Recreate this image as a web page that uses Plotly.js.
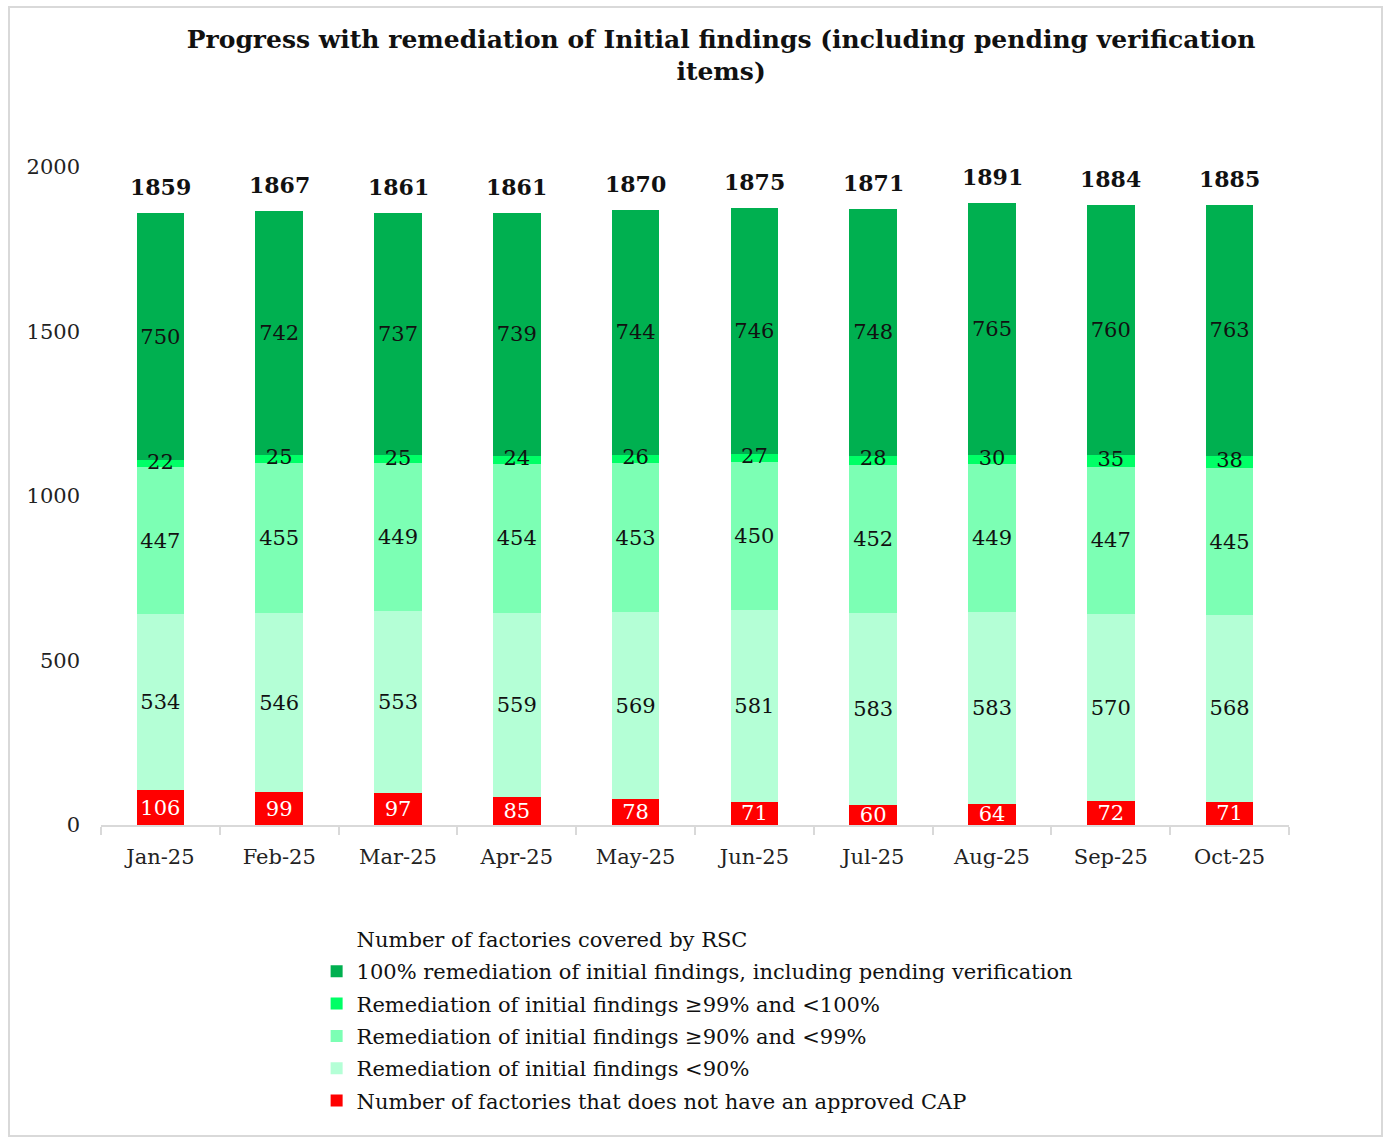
<!DOCTYPE html>
<html>
<head>
<meta charset="utf-8">
<script src="https://cdn.plot.ly/plotly-3.0.1.min.js"></script>
<style>
  html, body { margin: 0; padding: 0; background: #ffffff; }
  #wrap { position: relative; width: 1388px; height: 1139px; }
  #chart { width: 1388px; height: 1139px; }
  #frame { position: absolute; left: 8px; top: 6px; width: 1375px; height: 1131px;
           border: 2px solid #d9d9d9; box-sizing: border-box; pointer-events: none; }
</style>
</head>
<body>
<div id="wrap">
  <div id="chart"></div>
  <div id="frame"></div>
</div>
<script>
// ---- data ----
const months = ["Jan-25","Feb-25","Mar-25","Apr-25","May-25","Jun-25","Jul-25","Aug-25","Sep-25","Oct-25"];
const noCap = [106, 99, 97, 85, 78, 71, 60, 64, 72, 71];
const below90 = [534, 546, 553, 559, 569, 581, 583, 583, 570, 568];
const r90to99 = [447, 455, 449, 454, 453, 450, 452, 449, 447, 445];
const r99to100 = [22, 25, 25, 24, 26, 27, 28, 30, 35, 38];
const full100 = [750, 742, 737, 739, 744, 746, 748, 765, 760, 763];
const totals = [1859, 1867, 1861, 1861, 1870, 1875, 1871, 1891, 1884, 1885];

const seriesNames = [
  "Number of factories that does not have an approved CAP",
  "Remediation of initial findings <90%",
  "Remediation of initial findings \u226590% and <99%",
  "Remediation of initial findings \u226599% and <100%",
  "100% remediation of initial findings, including pending verification",
  "Number of factories covered by RSC"
];
const yTicks = [0, 500, 1000, 1500, 2000];

// ---- styling ----
const FONT = "DejaVu Serif, Liberation Serif, serif";
const colors = ["#FF0000", "#B4FFD6", "#7CFFB4", "#00FF66", "#00B050"];
const series = [noCap, below90, r90to99, r99to100, full100];

const traces = [];
series.forEach((vals, i) => {
  traces.push({
    type: "bar",
    x: months,
    y: vals,
    name: seriesNames[i],
    marker: { color: colors[i], line: { width: 0 } },
    text: i === 3 ? vals.map(() => "") : vals.map(String),
    textposition: "inside",
    insidetextanchor: "middle",
    constraintext: "none",
    textangle: 0,
    textfont: { family: FONT, size: 21, color: i === 0 ? "#ffffff" : "#111111" },
    hoverinfo: "skip",
    legendgroup: "g" + i,
    legendrank: 6 - i
  });
});

// labels for the thin >=99% segment drawn above all bars
const midThin = months.map((m, k) => noCap[k] + below90[k] + r90to99[k] + r99to100[k] / 2);
traces.push({
  type: "scatter",
  mode: "text",
  x: months,
  y: midThin,
  text: r99to100.map(String),
  textposition: "middle center",
  textfont: { family: FONT, size: 21, color: "#111111" },
  showlegend: false,
  hoverinfo: "skip"
});

// legend entry for the totals series (labels drawn as annotations)
traces.push({
  type: "scatter",
  mode: "lines",
  x: months,
  y: totals,
  name: seriesNames[5],
  line: { color: "rgba(0,0,0,0)", width: 0 },
  hoverinfo: "skip",
  legendgroup: "g5",
  legendrank: 1
});

const annotations = months.map((m, k) => ({
  x: m, y: totals[k], xref: "x", yref: "y",
  text: "<b>" + totals[k] + "</b>",
  showarrow: false, yanchor: "bottom", yshift: 11,
  font: { family: FONT, size: 22, color: "#111111" }
}));

const layout = {
  width: 1388, height: 1139,
  paper_bgcolor: "#ffffff", plot_bgcolor: "#ffffff",
  margin: { l: 101, r: 99, t: 167, b: 314 },
  barmode: "stack",
  bargap: 0.6,
  showlegend: true,
  title: {
    text: "<b>Progress with remediation of Initial findings (including pending verification<br>items)</b>",
    font: { family: FONT, size: 25, color: "#111111" },
    xref: "container", x: 0.5195, xanchor: "center",
    yref: "container", y: 0.958, yanchor: "top"
  },
  xaxis: {
    type: "category",
    showline: true, linecolor: "#d9d9d9", linewidth: 2,
    ticks: "outside", tickson: "boundaries", ticklen: 8, tickcolor: "#d9d9d9", tickwidth: 2,
    ticklabelstandoff: 12,
    tickfont: { family: FONT, size: 21, color: "#222222" },
    showgrid: false, zeroline: false, fixedrange: true
  },
  yaxis: {
    range: [0, 2000],
    tickvals: yTicks,
    ticktext: yTicks.map(String),
    showline: false, showgrid: false, zeroline: false,
    ticks: "",
    ticklabelstandoff: 20,
    tickfont: { family: FONT, size: 21, color: "#222222" },
    fixedrange: true
  },
  legend: {
    orientation: "v",
    traceorder: "grouped",
    tracegroupgap: 2,
    x: 0.1815, xanchor: "left",
    y: -0.1426, yanchor: "top",
    font: { family: FONT, size: 21, color: "#111111" },
    bgcolor: "rgba(0,0,0,0)"
  },
  annotations: annotations
};

Plotly.newPlot("chart", traces, layout, { displayModeBar: false, staticPlot: true });
</script>
</body>
</html>
